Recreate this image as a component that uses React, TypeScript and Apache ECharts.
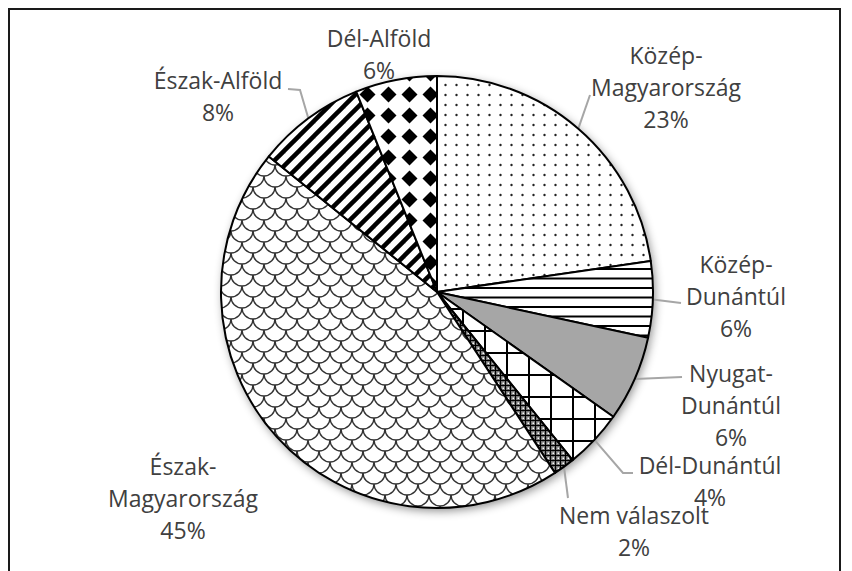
import React, { useEffect, useRef } from 'react';
import * as echarts from 'echarts';

// ---- data ----
const categories = [
  'Közép-Magyarország',
  'Közép-Dunántúl',
  'Nyugat-Dunántúl',
  'Dél-Dunántúl',
  'Nem válaszolt',
  'Észak-Magyarország',
  'Észak-Alföld',
  'Dél-Alföld',
];
const values = [22.7, 5.7, 6.4, 4.4, 1.6, 45.0, 8.1, 6.1];
const wrapName = [true, true, true, false, false, true, false, false];

// ---- layout (label placement, not data) ----
const LABEL_SPOTS: { x: number; y: number; bend: number[][] | null }[] = [
  { x: 666, y: 87, bend: [[590, 95]] },
  { x: 736, y: 296, bend: [[681, 303]] },
  { x: 731, y: 405, bend: [[682, 377]] },
  { x: 710, y: 481, bend: [[623, 473], [633, 473]] },
  { x: 634, y: 531, bend: [[568, 498]] },
  { x: 183, y: 498, bend: null },
  { x: 218, y: 96, bend: [[300, 90], [288, 89]] },
  { x: 379, y: 54, bend: null },
];

type Pat = { image: string; repeat: string; imageWidth: number; imageHeight: number };

function tile(w: number, h: number, draw: (c: CanvasRenderingContext2D) => void, bg = '#ffffff'): Pat {
  const cv = document.createElement('canvas');
  cv.width = w;
  cv.height = h;
  const ctx = cv.getContext('2d') as CanvasRenderingContext2D;
  ctx.fillStyle = bg;
  ctx.fillRect(0, 0, w, h);
  draw(ctx);
  return { image: cv.toDataURL(), repeat: 'repeat', imageWidth: w, imageHeight: h };
}

function makePatterns(): (Pat | string)[] {
  const dots = tile(11, 10, (c) => {
    c.fillStyle = '#222';
    c.beginPath();
    c.arc(5.5, 5, 1.2, 0, Math.PI * 2);
    c.fill();
  });
  const hlines = tile(8, 19, (c) => {
    c.fillStyle = '#000';
    c.fillRect(0, 2, 8, 2);
    c.fillRect(0, 11.5, 8, 2);
  });
  const gray = '#a6a6a6';
  const grid = tile(22, 22, (c) => {
    c.fillStyle = '#000';
    c.fillRect(0, 0, 22, 2);
    c.fillRect(0, 0, 2, 22);
  });
  const fine = tile(5, 5, (c) => {
    c.fillStyle = '#000';
    c.fillRect(0, 0, 5, 1);
    c.fillRect(0, 0, 1, 5);
    c.fillStyle = '#fff';
    c.fillRect(2.5, 2.5, 1.5, 1.5);
  }, '#777');
  const scales = tile(22, 22, (c) => {
    c.strokeStyle = '#333';
    c.lineWidth = 1.4;
    const arcs = [
      [11, 0],
      [0, 11],
      [22, 11],
      [11, 22],
      [0, -11],
      [22, -11],
    ];
    for (const [cx, cy] of arcs) {
      c.beginPath();
      c.arc(cx, cy, 11, 0, Math.PI);
      c.stroke();
    }
  });
  const diag = tile(15, 15, (c) => {
    c.strokeStyle = '#000';
    c.lineWidth = 4.5;
    for (const o of [-15, 0, 15]) {
      c.beginPath();
      c.moveTo(o - 2, 17);
      c.lineTo(o + 17, -2);
      c.stroke();
    }
  });
  const diamonds = tile(21, 21, (c) => {
    c.fillStyle = '#000';
    c.beginPath();
    c.moveTo(10.5, 2.5);
    c.lineTo(18.5, 10.5);
    c.lineTo(10.5, 18.5);
    c.lineTo(2.5, 10.5);
    c.closePath();
    c.fill();
  });
  return [dots, hlines, gray, grid, fine, scales, diag, diamonds];
}

export default function App() {
  const ref = useRef<HTMLDivElement>(null);

  useEffect(() => {
    if (!ref.current) return;
    const chart = echarts.init(ref.current, undefined, { renderer: 'svg' });
    const patterns = makePatterns();
    const center = [437, 292];
    const radius = 216;

    const mainData = categories.map((name, i) => ({
      name,
      value: values[i],
      itemStyle: { color: patterns[i] as any },
      labelLine: { show: LABEL_SPOTS[i].bend !== null },
    }));
    const shadowData = categories.map((name, i) => ({ name, value: values[i] }));

    chart.setOption({
      animation: false,
      backgroundColor: '#ffffff',
      graphic: [
        {
          type: 'rect',
          silent: true,
          z: 100,
          shape: { x: 9, y: 9, width: 831, height: 640 },
          style: { fill: 'none', stroke: '#1a1a1a', lineWidth: 2 },
        },
      ],
      series: [
        {
          type: 'pie',
          silent: true,
          z: 1,
          center,
          radius,
          startAngle: 90,
          clockwise: true,
          label: { show: false },
          labelLine: { show: false },
          itemStyle: {
            color: '#ffffff',
            borderWidth: 0,
            shadowBlur: 10,
            shadowColor: 'rgba(0,0,0,0.45)',
            shadowOffsetX: 2,
            shadowOffsetY: 3,
          },
          data: shadowData,
        },
        {
          type: 'pie',
          z: 3,
          center,
          radius,
          startAngle: 90,
          clockwise: true,
          avoidLabelOverlap: false,
          percentPrecision: 0,
          itemStyle: { borderColor: '#000', borderWidth: 2 },
          emphasis: { disabled: true },
          label: {
            show: true,
            position: 'outside',
            color: '#404040',
            fontFamily: 'Open Sans',
            fontSize: 23,
            lineHeight: 32,
            align: 'center',
            formatter: (p: any) => {
              const i = p.dataIndex;
              const nm = wrapName[i] ? p.name.replace('-', '-\n') : p.name;
              return nm + '\n' + Math.round(p.percent) + '%';
            },
          },
          labelLine: {
            show: true,
            length: 10,
            length2: 10,
            lineStyle: { color: '#a6a6a6', width: 2 },
          },
          labelLayout: (params: any) => {
            const spot = LABEL_SPOTS[params.dataIndex];
            const res: any = {
              x: spot.x,
              y: spot.y,
              align: 'center',
              verticalAlign: 'middle',
            };
            if (spot.bend && params.labelLinePoints) {
              const start = params.labelLinePoints[0];
              const pts = [start, ...spot.bend];
              while (pts.length < 3) pts.push(pts[pts.length - 1]);
              res.labelLinePoints = pts;
            }
            return res;
          },
          data: mainData,
        },
      ],
    });

    return () => chart.dispose();
  }, []);

  return (
    <div
      ref={ref}
      style={{ position: 'fixed', left: 0, top: 0, width: 852, height: 571, background: '#fff' }}
    />
  );
}
